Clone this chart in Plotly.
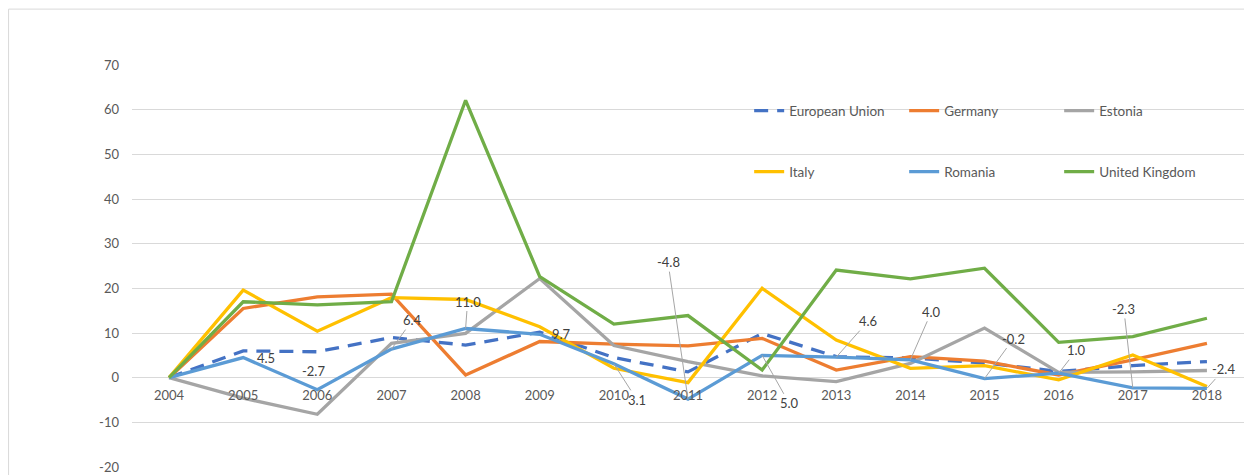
import plotly.graph_objects as go

years = [str(y) for y in range(2004, 2019)]
eu = [0, 6.0, 5.8, 9.0, 7.3, 10.2, 4.5, 1.3, 9.9, 4.7, 4.4, 3.3, 1.4, 2.7, 3.6]
germany = [0, 15.5, 18.1, 18.7, 0.6, 8.1, 7.5, 7.1, 8.8, 1.7, 4.7, 3.7, 0.6, 4.0, 7.7]
estonia = [0, -4.6, -8.2, 7.7, 9.9, 22.2, 7.2, 3.6, 0.4, -0.9, 3.2, 11.1, 1.2, 1.3, 1.6]
italy = [0, 19.6, 10.4, 17.9, 17.5, 11.4, 2.1, -1.1, 20.0, 8.4, 2.1, 2.7, -0.5, 5.1, -2.0]
romania = [0, 4.5, -2.7, 6.4, 11.0, 9.7, 3.1, -4.8, 5.0, 4.6, 4.0, -0.2, 1.0, -2.3, -2.4]
uk = [0, 17.0, 16.3, 17.0, 62.1, 22.6, 12.0, 13.9, 1.7, 24.1, 22.1, 24.5, 7.9, 9.2, 13.3]
label_texts = ["4.5", "-2.7", "6.4", "11.0", "9.7", "3.1", "-4.8", "5.0", "4.6", "4.0", "-0.2", "1.0", "-2.3", "-2.4"]
y_tickvals = [-20, -10, 0, 10, 20, 30, 40, 50, 60, 70]
y_ticktext = ["-20", "-10", "0", "10", "20", "30", "40", "50", "60", "70"]

FONT = "Lato"
fig = go.Figure()
series = [
    ("European Union", eu, "#4472C4", "14px,9px", "legend"),
    ("Germany", germany, "#ED7D31", "solid", "legend"),
    ("Estonia", estonia, "#A5A5A5", "solid", "legend"),
    ("Italy", italy, "#FFC000", "solid", "legend2"),
    ("Romania", romania, "#5B9BD5", "solid", "legend2"),
    ("United Kingdom", uk, "#70AD47", "solid", "legend2"),
]
for name, vals, col, dash, lg in series:
    fig.add_trace(go.Scatter(x=years, y=vals, name=name, mode="lines",
                             line=dict(color=col, width=3.3, dash=dash),
                             legend=lg, hoverinfo="skip"))

# label offsets (pixels) relative to the Romania point; leader flag
offsets = [(23, 0, False), (-4, -19, False), (21, -29, True), (2, -27, True),
           (22, 0, False), (23, 36, True), (-20, -137, True), (27, 48, True),
           (32, -36, True), (21, -48, True), (29, -40, True), (18, -23, True),
           (-9, -79, True), (17, -19, True)]
for i, (txt, (dx, dy, leader)) in enumerate(zip(label_texts, offsets)):
    idx = i + 1  # category index
    val = romania[idx]
    if leader:
        fig.add_annotation(xref="x", yref="y", x=idx, y=val, text=txt,
                           showarrow=True, arrowhead=0,
                           arrowwidth=1, arrowcolor="#A6A6A6", ax=dx, ay=dy,
                           font=dict(family=FONT, size=13, color="#404040"))
    else:
        fig.add_annotation(xref="x", yref="y", x=idx, y=val, text=txt,
                           showarrow=False, xshift=dx, yshift=-dy,
                           font=dict(family=FONT, size=13, color="#404040"))

# chart border
fig.add_shape(type="rect", xref="paper", yref="paper",
              x0=-0.1110, x1=1.001, y0=-0.05, y1=1.139,
              line=dict(color="#D9D9D9", width=1), layer="below")

legend_common = dict(orientation="h", bgcolor="rgba(0,0,0,0)",
                     font=dict(family=FONT, size=13.5, color="#595959"),
                     entrywidth=110, entrywidthmode="pixels",
                     xanchor="left", yanchor="middle", itemclick=False)
# page body has an 8px margin; figure is sized/placed to compensate
fig.update_layout(
    width=1244, height=467,
    margin=dict(l=124, r=8, t=57, b=8, autoexpand=False),
    paper_bgcolor="white", plot_bgcolor="white",
    font=dict(family=FONT, size=13, color="#595959"),
    showlegend=True,
    legend=dict(x=0.555, y=0.886, **legend_common),
    legend2=dict(x=0.555, y=0.734, **legend_common),
    xaxis=dict(type="category", range=[-0.5, 14.5], anchor="free",
               position=20 / 90, showgrid=False, showline=False, ticks="",
               ticklabelstandoff=8, tickfont=dict(family=FONT, size=13, color="#595959")),
    yaxis=dict(range=[-20, 70], tickmode="array", tickvals=y_tickvals,
               ticktext=y_ticktext, gridcolor="#D9D9D9",
               gridwidth=1, zeroline=False, showline=False, ticks="",
               ticklabelstandoff=12, tickfont=dict(family=FONT, size=13, color="#595959")),
)

fig.write_html("out.html")
